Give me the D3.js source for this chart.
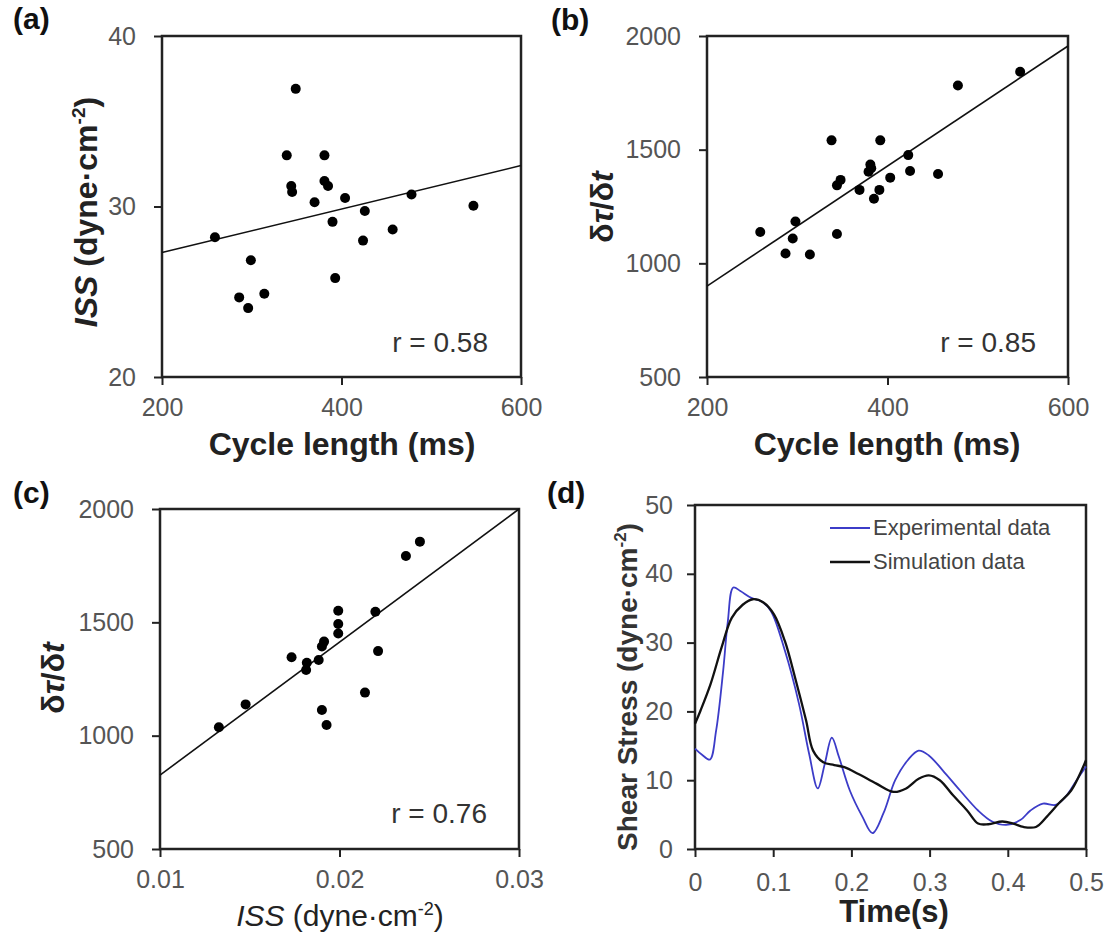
<!DOCTYPE html>
<html>
<head>
<meta charset="utf-8">
<title>Shear stress panels</title>
<style>
  body { margin: 0; background: #fff; }
  svg { display: block; font-family: "Liberation Sans", Arial, sans-serif; }
  .tick text { fill: #555; font-size: 25px; }
  .tick line { stroke: #222; stroke-width: 2; }
</style>
</head>
<body>
<svg width="1111" height="937"></svg>
<script src="https://cdn.jsdelivr.net/npm/d3@7/dist/d3.min.js"></script>
<script>

// (a) cycle length vs ISS
var aCycle = [349, 339, 381, 344, 345, 381, 385, 370, 404, 426, 478, 547, 390, 424, 457, 259, 299, 286, 296, 314, 393];
var aISS   = [36.9, 33.0, 33.0, 31.2, 30.85, 31.5, 31.2, 30.25, 30.5, 29.74, 30.7, 30.04, 29.1, 28.0, 28.65, 28.2, 26.85, 24.67, 24.04, 24.88, 25.8];
var aFitX = [200, 600], aFitY = [27.3, 32.4];

// (b) cycle length vs dtau/dt
var bCycle = [547, 478, 338, 392, 423, 381, 379, 425, 456, 403, 348, 344, 369, 391, 385, 259, 298, 295, 344, 287, 314, 382];
var bRate  = [1843, 1782, 1541, 1541, 1476, 1435, 1403, 1406, 1393, 1377, 1367, 1343, 1323, 1323, 1284, 1138, 1184, 1109, 1129, 1043, 1039, 1418];
var bFitX = [200, 600], bFitY = [900, 1956];

// (c) ISS vs dtau/dt
var cISS  = [0.02448, 0.0237, 0.01993, 0.022, 0.01993, 0.01993, 0.01914, 0.01902, 0.01884, 0.01818, 0.01814, 0.01733, 0.02215, 0.02142, 0.01902, 0.01928, 0.01477, 0.01328];
var cRate = [1856, 1793, 1551, 1547, 1493, 1451, 1415, 1393, 1334, 1322, 1290, 1346, 1373, 1190, 1113, 1047, 1138, 1037];
var cFitX = [0.01, 0.03], cFitY = [826, 2000];

// (d) shear stress waveform
var dExpT = [0, 0.009, 0.019, 0.027, 0.036, 0.042, 0.049, 0.058, 0.072, 0.085, 0.097, 0.115, 0.133, 0.146, 0.157, 0.166, 0.175, 0.184, 0.198, 0.214, 0.227, 0.241, 0.256, 0.272, 0.286, 0.299, 0.317, 0.339, 0.362, 0.38, 0.398, 0.416, 0.429, 0.445, 0.461, 0.474, 0.488, 0.5];
var dExp  = [14.6, 13.7, 13.0, 17.2, 25.9, 33.1, 38.0, 37.5, 36.5, 36.0, 34.6, 28.8, 21.1, 13.8, 8.8, 12.4, 16.2, 13.4, 8.5, 4.7, 2.3, 5.2, 10.0, 12.9, 14.3, 13.6, 11.4, 8.5, 5.6, 4.0, 3.5, 4.2, 5.6, 6.6, 6.4, 7.6, 10.0, 12.0];
var dSimT = [0, 0.007, 0.02, 0.034, 0.047, 0.061, 0.074, 0.088, 0.101, 0.115, 0.128, 0.142, 0.151, 0.164, 0.178, 0.191, 0.209, 0.232, 0.254, 0.27, 0.286, 0.299, 0.313, 0.33, 0.348, 0.362, 0.375, 0.393, 0.407, 0.42, 0.436, 0.45, 0.465, 0.481, 0.5];
var dSim  = [18.2, 20.1, 24.0, 29.3, 33.6, 35.5, 36.3, 35.8, 34.1, 30.2, 24.9, 18.7, 14.3, 12.6, 12.2, 11.9, 10.9, 9.5, 8.3, 8.8, 10.2, 10.7, 10.0, 7.8, 5.6, 3.7, 3.6, 4.0, 3.7, 3.2, 3.2, 4.7, 6.6, 8.5, 12.9];
var legendNames = ["Experimental data", "Simulation data"];

var svg = d3.select("svg");

//draw a framed panel with ticks, returns scales
function frame(box, xDom, yDom, xTicks, yTicks, xFmt, pad) {
    var x = d3.scaleLinear().domain(xDom).range([box.x0, box.x1]);
    var y = d3.scaleLinear().domain(yDom).range([box.y1, box.y0]);
    var gx = svg.append("g").attr("transform", "translate(0," + box.y1 + ")")
        .call(d3.axisBottom(x).tickValues(xTicks).tickSize(8).tickPadding(pad.x).tickFormat(xFmt));
    var gy = svg.append("g").attr("transform", "translate(" + box.x0 + ",0)")
        .call(d3.axisLeft(y).tickValues(yTicks).tickSize(8).tickPadding(pad.y).tickFormat(d3.format("d")));
    gx.select(".domain").remove();
    gy.select(".domain").remove();
    gx.attr("font-family", null).attr("font-size", null);
    gy.attr("font-family", null).attr("font-size", null);
    svg.append("rect")
        .attr("x", box.x0).attr("y", box.y0)
        .attr("width", box.x1 - box.x0).attr("height", box.y1 - box.y0)
        .attr("fill", "none").attr("stroke", "#222").attr("stroke-width", 2.5);
    return {x: x, y: y};
}

function scatter(s, xs, ys, fx, fy) {
    svg.append("line")
        .attr("x1", s.x(fx[0])).attr("y1", s.y(fy[0]))
        .attr("x2", s.x(fx[1])).attr("y2", s.y(fy[1]))
        .attr("stroke", "#111").attr("stroke-width", 1.6);
    svg.append("g").selectAll("circle")
        .data(xs.map(function(v, i) { return [v, ys[i]]; }))
        .enter().append("circle")
            .attr("cx", d => s.x(d[0]))
            .attr("cy", d => s.y(d[1]))
            .attr("r", 5)
            .attr("fill", "#000");
}

function label(txt, x, y) {
    svg.append("text").attr("x", x).attr("y", y)
        .style("font-weight", "bold").style("font-size", "30px").attr("fill", "#111").text(txt);
}

function rText(txt, x, y) {
    svg.append("text").attr("x", x).attr("y", y).attr("text-anchor", "end")
        .style("font-size", "28px").attr("fill", "#333").text(txt);
}

// ISS (dyne·cm-2) title with italic ISS and superscript
function issTitle(t, big, sup) {
    t.append("tspan").style("font-style", "italic").text("ISS");
    t.append("tspan").text(" (dyne·cm");
    t.append("tspan").attr("dy", -big * 0.38).style("font-size", sup + "px").text("-2");
    t.append("tspan").attr("dy", big * 0.38).text(")");
}

function rateTitle(t) {
    t.append("tspan").text("δ");
    t.append("tspan").style("font-style", "italic").text("τ");
    t.append("tspan").text("/δ");
    t.append("tspan").style("font-style", "italic").text("t");
}

var pad = {x: 13, y: 18};

//****************** panel (a) ******************
var boxA = {x0: 162, x1: 521, y0: 36, y1: 377};
var sA = frame(boxA, [200, 600], [20, 40], [200, 400, 600], [20, 30, 40], d3.format("d"), pad);
scatter(sA, aCycle, aISS, aFitX, aFitY);
label("(a)", 13, 29);
rText("r = 0.58", 488, 352);
svg.append("text").attr("x", 342).attr("y", 455).attr("text-anchor", "middle")
    .style("font-weight", "bold").style("font-size", "32px").attr("fill", "#222").text("Cycle length (ms)");
issTitle(svg.append("text").attr("transform", "translate(97,212) rotate(-90)").attr("text-anchor", "middle")
    .style("font-weight", "bold").style("font-size", "32px").attr("fill", "#222"), 32, 19);

//****************** panel (b) ******************
var boxB = {x0: 707, x1: 1068, y0: 36, y1: 377};
var sB = frame(boxB, [200, 600], [500, 2000], [200, 400, 600], [500, 1000, 1500, 2000], d3.format("d"), pad);
scatter(sB, bCycle, bRate, bFitX, bFitY);
label("(b)", 551, 30);
rText("r = 0.85", 1036, 352);
svg.append("text").attr("x", 887).attr("y", 455).attr("text-anchor", "middle")
    .style("font-weight", "bold").style("font-size", "32px").attr("fill", "#222").text("Cycle length (ms)");
rateTitle(svg.append("text").attr("transform", "translate(613,207) rotate(-90)").attr("text-anchor", "middle")
    .style("font-weight", "bold").style("font-size", "32px").attr("fill", "#222"));

//****************** panel (c) ******************
var boxC = {x0: 160, x1: 519, y0: 509, y1: 849};
var sC = frame(boxC, [0.01, 0.03], [500, 2000], [0.01, 0.02, 0.03], [500, 1000, 1500, 2000], d3.format(".2f"), pad);
scatter(sC, cISS, cRate, cFitX, cFitY);
label("(c)", 13, 503);
rText("r = 0.76", 487, 823);
issTitle(svg.append("text").attr("x", 340).attr("y", 926).attr("text-anchor", "middle")
    .style("font-size", "30px").attr("fill", "#222"), 30, 18);
rateTitle(svg.append("text").attr("transform", "translate(64,678) rotate(-90)").attr("text-anchor", "middle")
    .style("font-weight", "bold").style("font-size", "32px").attr("fill", "#222"));

//****************** panel (d) ******************
var boxD = {x0: 695, x1: 1086, y0: 505, y1: 849};
var sD = frame(boxD, [0, 0.5], [0, 50], [0, 0.1, 0.2, 0.3, 0.4, 0.5], [0, 10, 20, 30, 40, 50],
    d => d === 0 ? "0" : d3.format(".1f")(d), {x: 16, y: 14});
label("(d)", 547, 503);

var lineExp = d3.line().curve(d3.curveCatmullRom.alpha(0.5))
    .x((d, i) => sD.x(dExpT[i])).y(d => sD.y(d));
var lineSim = d3.line().curve(d3.curveCatmullRom.alpha(0.5))
    .x((d, i) => sD.x(dSimT[i])).y(d => sD.y(d));
svg.append("path").attr("d", lineExp(dExp)).attr("fill", "none").attr("stroke", "#3c3cc8").attr("stroke-width", 1.8);
svg.append("path").attr("d", lineSim(dSim)).attr("fill", "none").attr("stroke", "#111").attr("stroke-width", 2.3);

// legend
var legColors = ["#3c3cc8", "#111"];
var leg = svg.append("g").selectAll("g").data(legendNames).enter().append("g")
    .attr("transform", (d, i) => "translate(830," + (528 + i * 34) + ")");
leg.append("line").attr("x1", 0).attr("x2", 40).attr("stroke", (d, i) => legColors[i]).attr("stroke-width", (d, i) => i ? 2.3 : 1.8);
leg.append("text").attr("x", 43).attr("y", 7).style("font-size", "22px").attr("fill", "#444").text(d => d);

svg.append("text").attr("x", 894).attr("y", 922).attr("text-anchor", "middle")
    .style("font-weight", "bold").style("font-size", "31px").attr("fill", "#222").text("Time(s)");
var st = svg.append("text").attr("transform", "translate(637,687) rotate(-90)").attr("text-anchor", "middle")
    .style("font-weight", "bold").style("font-size", "28px").attr("fill", "#333");
st.append("tspan").text("Shear Stress (dyne·cm");
st.append("tspan").attr("dy", -11).style("font-size", "17px").text("-2");
st.append("tspan").attr("dy", 11).text(")");

</script>
</body>
</html>
